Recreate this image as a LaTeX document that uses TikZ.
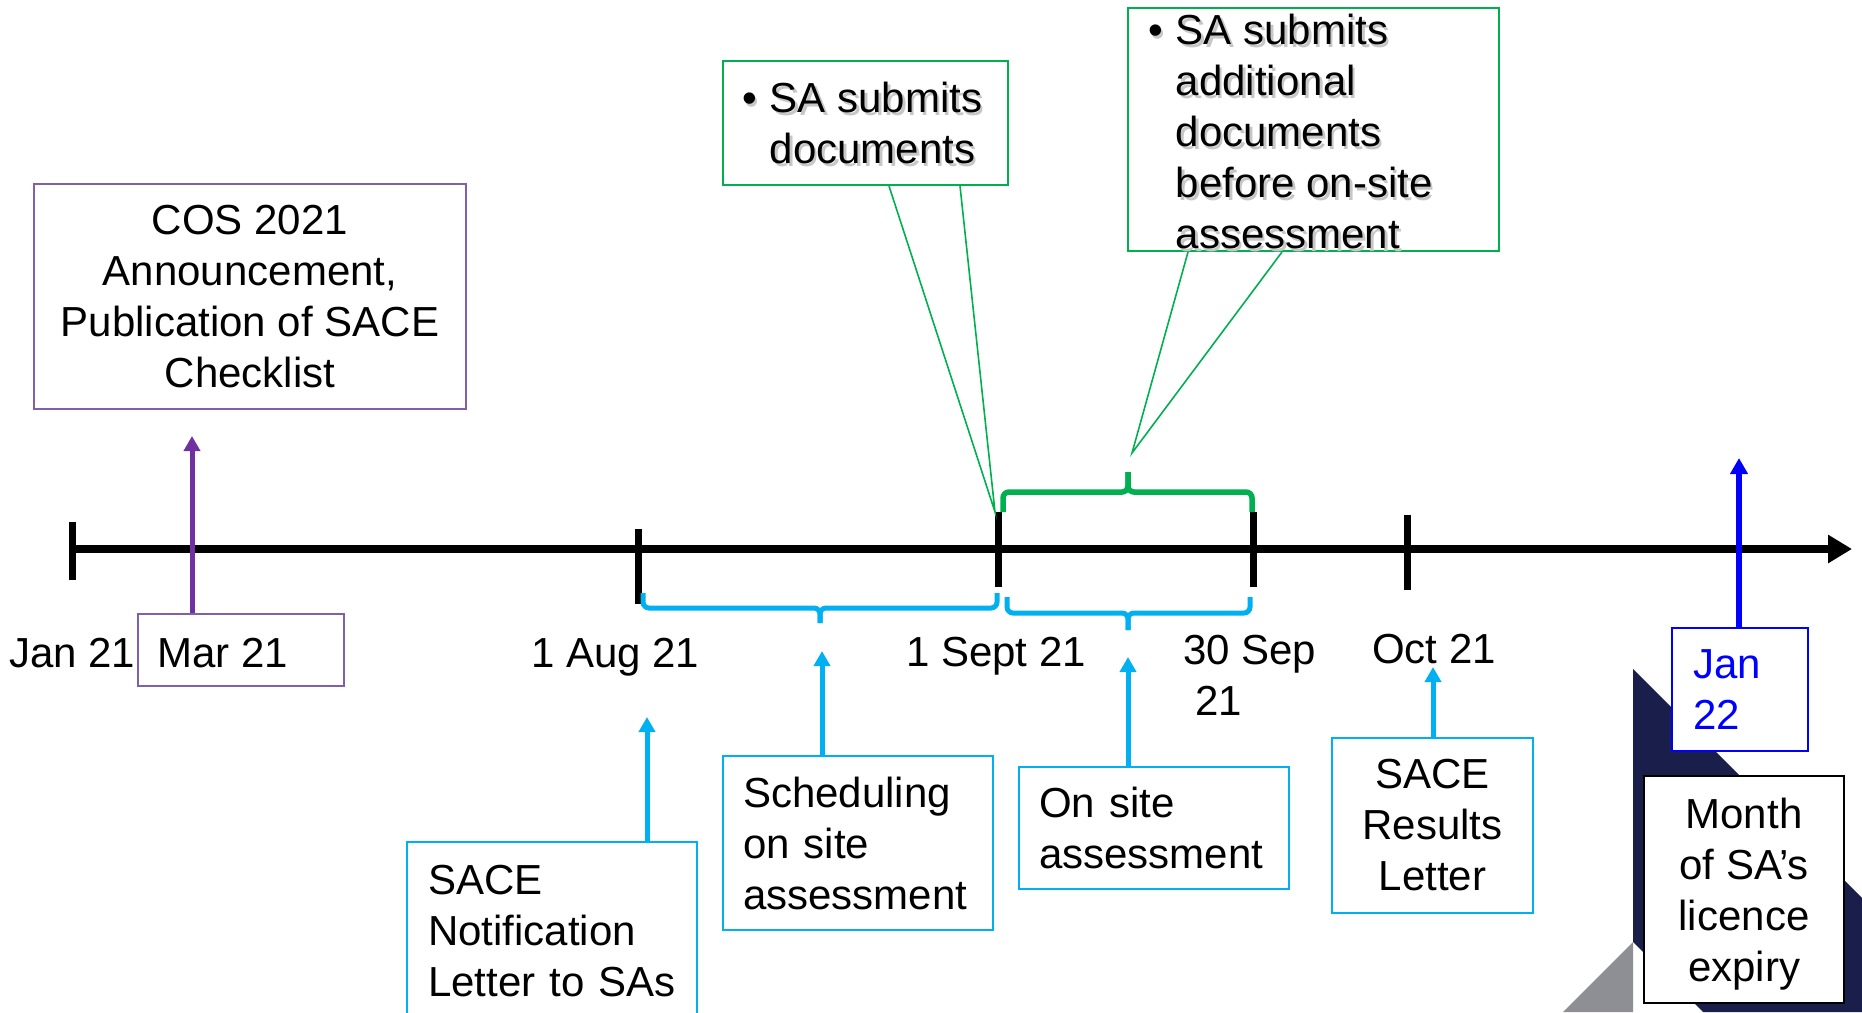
\documentclass[tikz,border=0pt]{standalone}
\usepackage{fontspec}
\setmainfont{Liberation Sans}
\usetikzlibrary{arrows.meta,calc}

\definecolor{tlpurple}{RGB}{112,48,160}
\definecolor{boxpurple}{RGB}{128,96,168}
\definecolor{tlcyan}{RGB}{0,176,240}
\definecolor{tlgreen}{RGB}{0,176,80}
\definecolor{tlblue}{RGB}{0,0,255}
\definecolor{navyband}{RGB}{25,31,74}
\definecolor{slate}{RGB}{142,143,148}

% text with a soft grey drop shadow
\newcommand\shd[1]{\rlap{\kern2.5pt\raisebox{-2.5pt}{\textcolor{black!22}{#1}}}#1}

\begin{document}
\begin{tikzpicture}[x=1pt,y=-1pt,
  font=\fontsize{42}{51}\selectfont,
  lbox/.style={draw, line width=2pt, inner ysep=0pt, anchor=north west, align=left},
  cbox/.style={draw, line width=2pt, inner sep=0pt, anchor=north west, align=center},
  rectbox/.style={draw, line width=2pt, inner sep=0pt, anchor=north west},
  datelabel/.style={inner sep=0pt, anchor=base west},
  tickmark/.style={line width=7pt},
  greenbrace/.style={draw=tlgreen, line width=5.5pt, rounded corners=6pt},
  cyanbrace/.style={draw=tlcyan, line width=5pt, rounded corners=6pt},
  callout/.style={draw=tlgreen, line width=1.6pt, line join=miter},
  carrow/.style={draw=tlcyan, line width=5pt, -{Triangle[length=15pt,width=16pt]}},
  parrow/.style={draw=tlpurple, line width=5pt, -{Triangle[length=15pt,width=16pt]}},
  barrow/.style={draw=tlblue, line width=6pt, -{Triangle[length=16pt,width=17pt]}},
]
\useasboundingbox (0,0) rectangle (1862,1012);

% decorative corner band
\fill[slate] (1563,1012) -- (1633,942) -- (1633,1012) -- cycle;
\fill[navyband] (1633,669) -- (1862,898) -- (1862,1012) -- (1703,1012) -- (1633,942) -- cycle;

% time axis
\coordinate (axisstart) at (72,549);
\coordinate (axisend) at (1852,549);
\draw[line width=8pt, -{Triangle[length=24pt,width=27pt]}] (axisstart) -- (axisend);
\draw[tickmark] (72,522) -- (72,580);
\draw[tickmark] (638,529) -- (638,604);
\draw[tickmark] (998,512) -- (998,587);
\draw[tickmark] (1253,512) -- (1253,587);
\draw[tickmark] (1407,515) -- (1407,590);

% braces
\draw[greenbrace] (1003,512) |- (1128,492) -- (1128,472);
\draw[greenbrace] (1128,472) -- (1128,492) -| (1252,512);
\draw[cyanbrace] (643,593) |- (820,608) -- (820,623);
\draw[cyanbrace] (820,623) -- (820,608) -| (997,593);
\draw[cyanbrace] (1007,597) |- (1128,613) -- (1128,630);
\draw[cyanbrace] (1128,630) -- (1128,613) -| (1250,597);

% date labels
\node[datelabel] (ljan) at (9,667) {Jan 21};
\node[datelabel] (laug) at (531,667) {1 Aug 21};
\node[datelabel] (lsept) at (906,666) {1 Sept 21};
\node[inner sep=0pt, anchor=west, align=left] (lsepend) at (1183,675) {30 Sep\\\hspace*{12pt}21};
\node[datelabel] (loct) at (1372,663) {Oct 21};

% boxes
\node[cbox, draw=boxpurple, minimum width=432pt, minimum height=225pt] (cos) at (33,183)
  {COS 2021\\Announcement,\\Publication of SACE\\Checklist};
\node[rectbox, draw=boxpurple, minimum width=206pt, minimum height=72pt] (mar) at (137,613) {};
\node[datelabel] (martext) at (157,667) {Mar 21};
\node[lbox, draw=tlcyan, minimum height=178pt, inner xsep=21pt, text width=248pt] (notif) at (406,841)
  {SACE\\Notification\\Letter to SAs};
\node[lbox, draw=tlcyan, minimum height=174pt, inner xsep=20pt, text width=230pt] (sched) at (722,755)
  {Scheduling\\on site\\assessment};
\node[lbox, draw=tlcyan, minimum height=122pt, inner xsep=20pt, text width=230pt] (onsite) at (1018,766)
  {On site\\assessment};
\node[cbox, draw=tlcyan, minimum width=201pt, minimum height=175pt] (results) at (1331,737)
  {SACE\\Results\\Letter};
\node[lbox, draw=tlblue, fill=white, text=tlblue, minimum height=123pt, inner xsep=21pt, text width=94pt] (jan) at (1671,627)
  {Jan\\22};
\node[rectbox, draw=black, fill=white, minimum width=200pt, minimum height=227pt] (month) at (1643,775) {};
\node[inner sep=0pt, align=center, yshift=-5pt] (monthtext) at (month.center)
  {Month\\of SA’s\\licence\\expiry};

% submission callouts
\node[rectbox, draw=tlgreen, minimum width=285pt, minimum height=124pt] (docs) at (722,60) {};
\node[inner sep=0pt, anchor=north west] (docstext) at (742,77)
  {\begin{tabular}{@{}l@{\hspace{13pt}}l@{}}\shd{•}&\shd{SA submits}\\&\shd{documents}\end{tabular}};
\node[rectbox, draw=tlgreen, minimum width=371pt, minimum height=243pt] (adddocs) at (1127,7) {};
\node[inner sep=0pt, anchor=north west] (adddocstext) at (1148,9)
  {\begin{tabular}{@{}l@{\hspace{13pt}}l@{}}\shd{•}&\shd{SA submits}\\&\shd{additional}\\&\shd{documents}\\&\shd{before on-site}\\&\shd{assessment}\end{tabular}};

\coordinate (tipdocs) at (995,512);
\coordinate (tipadd) at (1132,453);
\draw[callout] ($(docs.south west)+(167,0)$) -- (tipdocs) -- ($(docs.south west)+(238,0)$);
\draw[callout] ($(adddocs.south west)+(61,0)$) -- (tipadd) -- ($(adddocs.south west)+(155,0)$);

% pointer arrows
\coordinate (tipmar) at (192,436);
\coordinate (tipnotif) at (647,717);
\coordinate (tipsched) at (822,651);
\coordinate (tiponsite) at (1128,657);
\coordinate (tipresults) at (1433,667);
\coordinate (tipjan) at (1739,458);
\draw[parrow] (mar.north -| tipmar) -- (tipmar);
\draw[carrow] (notif.north -| tipnotif) -- (tipnotif);
\draw[carrow] (sched.north -| tipsched) -- (tipsched);
\draw[carrow] (onsite.north -| tiponsite) -- (tiponsite);
\draw[carrow] (results.north -| tipresults) -- (tipresults);
\draw[barrow] (jan.north -| tipjan) -- (tipjan);
\end{tikzpicture}
\end{document}
